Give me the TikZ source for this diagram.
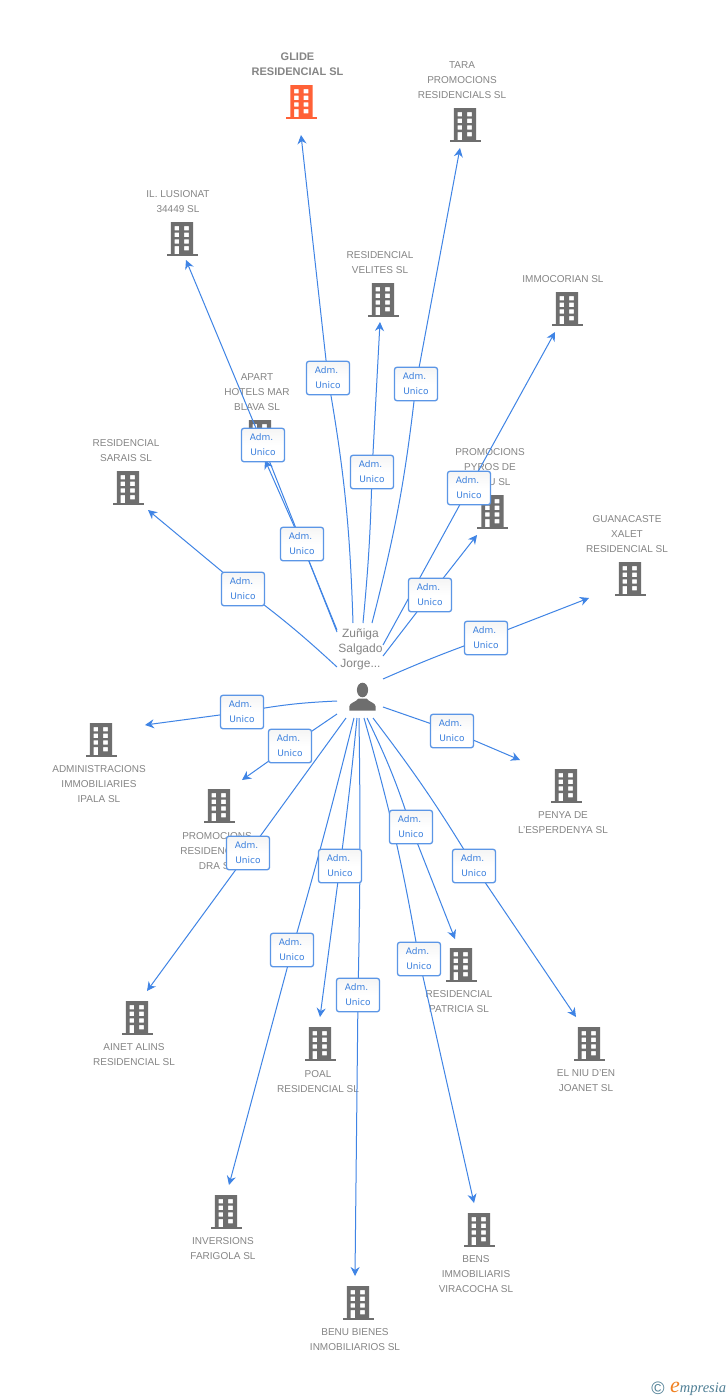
\documentclass[tikz,border=0pt]{standalone}
\usepackage{fontspec}
\setmainfont{Liberation Sans}
\newfontfamily\boxfont{DejaVu Sans}
\newfontfamily\logofont{Liberation Serif}
\usetikzlibrary{arrows.meta,shadings}
\pgfdeclarelayer{back}
\pgfdeclarelayer{mid}
\pgfsetlayers{back,mid,main}
\definecolor{bgray}{HTML}{6E6E6E}
\definecolor{bred}{HTML}{FF6137}
\definecolor{lgray}{HTML}{858585}
\definecolor{lblue}{HTML}{3F84E5}
\definecolor{bborder}{HTML}{5B96E6}
\definecolor{btext}{HTML}{3A7FDD}
\definecolor{logoblue}{HTML}{4F7F95}
\definecolor{logoorange}{HTML}{F08020}
\tikzset{
  lbl/.style={text=lgray,font=\fontsize{10}{15}\selectfont,align=center,inner sep=0pt,anchor=center,yshift=-0.8pt},
  lblbold/.style={lbl,font=\fontsize{11}{15}\selectfont\bfseries},
  admbox/.style={draw=bborder,line width=1.3pt,rounded corners=2.5pt,top color=gray!8,bottom color=white,middle color=white,
    minimum width=43pt,minimum height=33.5pt,inner sep=0pt,text=btext,align=center,font=\fontsize{9}{15}\boxfont},
  conn/.style={draw=lblue,line width=1pt},
  arrowconn/.style={conn,-{Stealth[length=9pt,width=9pt]}},
  bldgbox/.style={minimum width=32pt,minimum height=34pt,inner sep=0pt}
}
\newcommand\bldg[4][bgray]{%
  \node[bldgbox] (#2) at (#3,#4) {};
  \begin{scope}[shift={(#3,#4)}]
    \fill[#1,even odd rule] (-11.2,-17) rectangle (11.2,15)
      (-7.5,-13) rectangle (-3,-8.7) (2,-13) rectangle (6.8,-8.7)
      (-7.5,-6.3) rectangle (-3,-2) (2,-6.3) rectangle (6.8,-2)
      (-7.5,0.3) rectangle (-3,4.7) (2,0.3) rectangle (6.8,4.7)
      (-7.5,7) rectangle (-3,15) (2,7) rectangle (6.8,11.3);
    \fill[#1] (-15.5,15) rectangle (15.5,17);
  \end{scope}}
% id, start, box centre, end, bend angle
\newcommand\link[8]{%
  \node[admbox] (b#1) at (#4,#5) {Adm.\kern3pt\\Unico};
  \coordinate (s#1) at (#2,#3);
  \coordinate (e#1) at (#6,#7);
  \begin{pgfonlayer}{mid}
    \draw[conn] (s#1) to[bend right=#8] (b#1.center);
    \draw[arrowconn] (b#1.center) -- (e#1);
  \end{pgfonlayer}}
\begin{document}
\begin{tikzpicture}[x=1pt,y=-1pt]
\useasboundingbox (0,0) rectangle (728,1400);
\begin{pgfonlayer}{back}
\fill[white] (0,0) rectangle (728,1400);
\bldg[bred]{glide}{301.5}{102}
\bldg{tara}{465}{125}
\bldg{ilus}{182}{239}
\bldg{veli}{383}{300}
\bldg{immo}{567}{309}
\bldg{apart}{260}{437}
\bldg{sara}{128}{488}
\bldg{pyro}{492.5}{512}
\bldg{guan}{630}{579}
\bldg{admi}{101}{740}
\bldg{prom}{219}{806}
\bldg{peny}{566}{786}
\bldg{patr}{461}{965}
\bldg{aine}{137}{1018}
\bldg{eniu}{589}{1044}
\bldg{poal}{320}{1044}
\bldg{inve}{226}{1212}
\bldg{bens}{479}{1230}
\bldg{benu}{358}{1303}
\node[lblbold] (tglide) at (297.5,63.5) {GLIDE\\RESIDENCIAL SL};
\node[lbl] (ttara) at (462,79) {TARA\\PROMOCIONS\\RESIDENCIALS SL};
\node[lbl] (tilus) at (178,200.5) {IL. LUSIONAT\\34449 SL};
\node[lbl] (tveli) at (380,261.5) {RESIDENCIAL\\VELITES SL};
\node[lbl] (timmo) at (563,278) {IMMOCORIAN SL};
\node[lbl] (tapart) at (257,391) {APART\\HOTELS MAR\\BLAVA SL};
\node[lbl] (tsara) at (126,449.5) {RESIDENCIAL\\SARAIS SL};
\node[lbl] (tpyro) at (490,466) {PROMOCIONS\\PYROS DE\\BLAU SL};
\node[lbl] (tguan) at (627,533) {GUANACASTE\\XALET\\RESIDENCIAL SL};
\node[lbl] (tadmi) at (99,783) {ADMINISTRACIONS\\IMMOBILIARIES\\IPALA SL};
\node[lbl] (tprom) at (217,850) {PROMOCIONS\\RESIDENCIALS\\DRA SL};
\node[lbl] (tpeny) at (563,821.5) {PENYA DE\\L'ESPERDENYA SL};
\node[lbl] (tpatr) at (459,1000.5) {RESIDENCIAL\\PATRICIA SL};
\node[lbl] (taine) at (134,1053.5) {AINET ALINS\\RESIDENCIAL SL};
\node[lbl] (teniu) at (586,1079.5) {EL NIU D'EN\\JOANET SL};
\node[lbl] (tpoal) at (318,1080.5) {POAL\\RESIDENCIAL SL};
\node[lbl] (tinve) at (223,1247.5) {INVERSIONS\\FARIGOLA SL};
\node[lbl] (tbens) at (476,1273) {BENS\\IMMOBILIARIS\\VIRACOCHA SL};
\node[lbl] (tbenu) at (355,1338.5) {BENU BIENES\\INMOBILIARIOS SL};
\node[lbl,font=\fontsize{12}{15}\selectfont] (tpers) at (360.5,649) {Zuñiga\\Salgado\\Jorge...};
\node[minimum width=28pt,minimum height=28pt,inner sep=0pt] (pers) at (362.5,697) {};
\begin{scope}[shift={(362.5,697)}]
  \fill[bgray] (0,-7) ellipse (5.6 and 7.3);
  \fill[bgray] (-13.2,13.5) -- (-13.2,9.5) .. controls (-13,5.5) and (-6,5) .. (-4,1.5)
     -- (4,1.5) .. controls (6,5) and (13,5.5) .. (13.2,9.5) -- (13.2,13.5) -- cycle;
\end{scope}
\end{pgfonlayer}
\link{1}{353}{623}{328}{378}{301}{135}{4}
\link{2}{372}{623}{416}{384}{460}{148}{4}
\link{3}{363}{623}{372}{472}{380}{322}{2}
\link{4}{383}{645}{469}{488}{555}{332}{0}
\link{5}{383}{656}{430}{595}{477}{535}{0}
\link{6}{383}{679}{486}{638}{589}{598}{-2}
\link{7}{383}{707}{452}{731}{520}{760}{0}
\link{8}{373}{718}{474}{866}{576}{1017}{-3}
\link{9}{367}{718}{411}{827}{455}{939}{-4}
\link{10}{364}{718}{419}{959}{474}{1203}{-3}
\link{11}{359}{718}{358}{995}{355}{1276}{-1}
\link{12}{357}{718}{340}{866}{320}{1017}{-1}
\link{13}{354}{718}{292}{950}{229}{1185}{-1}
\link{14}{346}{718}{248}{853}{147}{991}{0}
\link{15}{337}{714}{290}{746}{242}{780}{0}
\link{16}{337}{701}{242}{712}{145}{725}{4}
\link{17}{337}{667}{243}{589}{148}{510}{3}
\link{18}{337}{630}{302}{544}{265}{460}{0}
\link{19}{337}{632}{263}{445}{186}{260}{0}
\node[text=logoblue,inner sep=0pt,font=\fontsize{18}{18}\selectfont] (copy) at (658,1388.5) {©};
\node[inner sep=0pt,anchor=west,font=\fontsize{14.5}{15}\logofont\itshape] (logo) at (670,1389)
  {\textcolor{logoorange}{\fontsize{22}{15}\selectfont e}\textcolor{logoblue}{mpresia}};
\end{tikzpicture}
\end{document}
